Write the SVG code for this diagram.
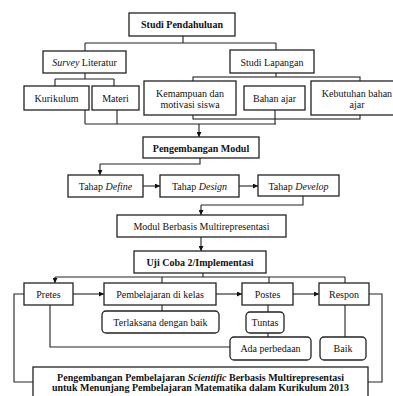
<svg xmlns="http://www.w3.org/2000/svg" width="393" height="396" viewBox="0 0 393 396" font-family="'Liberation Serif', 'Times New Roman', serif">
<defs>
<marker id="ah" viewBox="0 0 10 10" refX="10" refY="5" markerWidth="5" markerHeight="5" orient="auto" markerUnits="userSpaceOnUse">
<path d="M0,0 L10,5 L0,10 z" fill="#111"/>
</marker>
<style>
.b{fill:#fff;stroke:#222;stroke-width:1.3}
.c{fill:none;stroke:#222;stroke-width:1.1}
.a{fill:none;stroke:#222;stroke-width:1.1;marker-end:url(#ah)}
text{font-family:'Liberation Serif',serif;font-size:10px;fill:#111;text-anchor:middle}
.bd{font-weight:bold}
.i{font-style:italic}
</style>
</defs>
<rect width="393" height="396" fill="#fff"/>
<g id="connectors">
<path class="c" d="M183,36V43M85,43H276M85,43V51M276,43V50"/>
<path class="c" d="M85,73V79M55,79H114M55,79V86M114,79V86"/>
<path class="c" d="M276,73V77"/>
<rect class="c" x="193" y="77" width="167" height="42"/>
<path class="c" d="M85,110V124M117,110V124M275,110V124M85,124H276"/>
<path class="a" d="M199,124V137"/>
<path class="c" d="M200,158V164H100"/>
<path class="a" d="M100,164V175"/>
<path class="a" d="M143,186H160"/>
<path class="a" d="M239,186H258"/>
<path class="c" d="M303,196V205H201"/>
<path class="a" d="M201,205V215"/>
<path class="a" d="M201,237V251"/>
<path class="c" d="M203,273V277M55,277H345M162,277V283M269,277V283M345,277V283"/>
<path class="a" d="M55,277V283"/>
<path class="a" d="M73,294H104"/>
<path class="a" d="M216,294H242"/>
<path class="a" d="M293,294H319"/>
<path class="c" d="M162,305V311"/>
<path class="c" d="M50,305V347H230"/>
<path class="c" d="M268,305V312M268,333V337"/>
<path class="c" d="M345,305V337"/>
<path class="c" d="M369,294H382V382H368"/>
<path class="c" d="M24,294H14V382H33"/>
</g>
<g id="studi-pendahuluan"><rect class="b" x="129" y="13" width="106" height="23"/><text class="bd" x="182" y="28">Studi Pendahuluan</text></g>
<g id="survey-literatur"><rect class="b" x="43" y="51" width="83" height="22"/><text x="84.5" y="65.5"><tspan class="i">Survey</tspan> Literatur</text></g>
<g id="studi-lapangan"><rect class="b" x="230" y="50" width="84" height="23"/><text x="272" y="65.5">Studi Lapangan</text></g>
<g id="kurikulum"><rect class="b" x="24" y="86" width="65" height="24"/><text x="56.5" y="101.5">Kurikulum</text></g>
<g id="materi"><rect class="b" x="92" y="86" width="47" height="24"/><text x="115.5" y="101.5">Materi</text></g>
<g id="kemampuan"><rect class="b" x="144" y="81" width="92" height="34"/><text x="190" y="96.5">Kemampuan dan</text><text x="190" y="107.5">motivasi siswa</text></g>
<g id="bahan-ajar"><rect class="b" x="244" y="86" width="61" height="24"/><text x="274.5" y="101.5">Bahan ajar</text></g>
<g id="kebutuhan"><rect class="b" x="311" y="81" width="94" height="34"/><text x="357" y="96.5">Kebutuhan bahan</text><text x="357" y="107.5">ajar</text></g>
<g id="pengembangan-modul"><rect class="b" x="143" y="137" width="116" height="21"/><text class="bd" x="201" y="151.5">Pengembangan Modul</text></g>
<g id="define"><rect class="b" x="68" y="175" width="75" height="22"/><text x="105.5" y="189.5">Tahap <tspan class="i">Define</tspan></text></g>
<g id="design"><rect class="b" x="160" y="175" width="79" height="22"/><text x="199.5" y="189.5">Tahap <tspan class="i">Design</tspan></text></g>
<g id="develop"><rect class="b" x="258" y="175" width="81" height="21"/><text x="298.5" y="189.5">Tahap <tspan class="i">Develop</tspan></text></g>
<g id="modul-berbasis"><rect class="b" x="117" y="215" width="169" height="22"/><text x="201.5" y="229.5">Modul Berbasis Multirepresentasi</text></g>
<g id="uji-coba"><rect class="b" x="134" y="251" width="132" height="22"/><text class="bd" x="200" y="265.5">Uji Coba 2/Implementasi</text></g>
<g id="pretes"><rect class="b" x="24" y="283" width="49" height="22"/><text x="48.5" y="297.5">Pretes</text></g>
<g id="pembelajaran"><rect class="b" x="104" y="283" width="112" height="22"/><text x="160" y="297.5">Pembelajaran di kelas</text></g>
<g id="postes"><rect class="b" x="242" y="283" width="51" height="22"/><text x="267.5" y="297.5">Postes</text></g>
<g id="respon"><rect class="b" x="319" y="283" width="50" height="22"/><text x="344" y="297.5">Respon</text></g>
<g id="terlaksana"><rect class="b" x="102" y="311" width="117" height="22" rx="4"/><text x="160.5" y="325.5">Terlaksana dengan baik</text></g>
<g id="tuntas"><rect class="b" x="246" y="312" width="38" height="21" rx="4"/><text x="265" y="325.5">Tuntas</text></g>
<g id="ada-perbedaan"><rect class="b" x="230" y="337" width="81" height="23" rx="4"/><text x="270.5" y="352">Ada perbedaan</text></g>
<g id="baik"><rect class="b" x="320" y="337" width="46" height="23" rx="4"/><text x="343" y="352">Baik</text></g>
<g id="hasil"><rect class="b" x="33" y="367" width="335" height="35"/><text class="bd" x="200.5" y="380.5">Pengembangan Pembelajaran <tspan class="i">Scientific</tspan> Berbasis Multirepresentasi</text><text class="bd" x="200.5" y="391">untuk Menunjang Pembelajaran Matematika dalam Kurikulum 2013</text></g>
</svg>
